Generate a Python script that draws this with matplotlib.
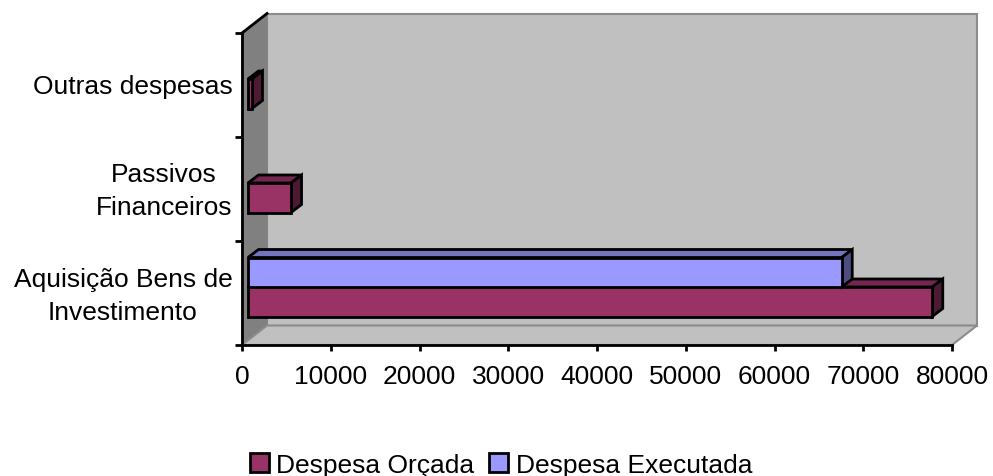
import matplotlib
matplotlib.use('Agg')
import matplotlib.pyplot as plt
from matplotlib.patches import Polygon, Patch

plt.rcParams['font.family'] = ['Liberation Sans', 'DejaVu Sans']

categories = ['Aquisição Bens de\nInvestimento', 'Passivos\nFinanceiros', 'Outras despesas']
orcada = [77100, 4850, 450]
executada = [66900, 0, 0]
x_ticks = [0, 10000, 20000, 30000, 40000, 50000, 60000, 70000, 80000]

W, H = 993, 477
# front plane of the chart box in pixels
left, right, bottom, top = 242, 952, 346, 34

# depth of the box and of the bars, in data units
sx = 80000 / (right - left)
sy = 3 / (bottom - top)
box_dx, box_dy = 25 * sx, 19.5 * sy
bar_dx, bar_dy = 10.5 * sx, 8 * sy
bar_x0 = 6 * sx
bar_y0 = 28.5 * sy
bar_h = 29.5 * sy
font_size = 19


def box3d(ax, start, y, value, h, front, top_col, side_col):
    ax.add_patch(Polygon([(start, y + h), (start + value, y + h), (start + value + bar_dx, y + h + bar_dy),
                          (start + bar_dx, y + h + bar_dy)], fc=top_col, ec='k', lw=2, zorder=3, clip_on=False))
    ax.add_patch(Polygon([(start + value, y), (start + value + bar_dx, y + bar_dy),
                          (start + value + bar_dx, y + h + bar_dy), (start + value, y + h)],
                         fc=side_col, ec='k', lw=2, zorder=3, clip_on=False))
    ax.add_patch(Polygon([(start, y), (start + value, y), (start + value, y + h), (start, y + h)],
                         fc=front, ec='k', lw=2, zorder=3, clip_on=False))


fig = plt.figure(figsize=(W / 100, H / 100), dpi=100)
ax = fig.add_axes([left / W, 1 - bottom / H, (right - left) / W, (bottom - top) / H])
ax.set_xlim(0, 80000)
ax.set_ylim(0, 3)
ax.patch.set_visible(False)

# back wall, side wall and floor
ax.add_patch(Polygon([(box_dx, box_dy), (80000 + box_dx, box_dy), (80000 + box_dx, 3 + box_dy), (box_dx, 3 + box_dy)],
                     fc='#c0c0c0', ec='#8c8c8c', lw=1.5, zorder=1, clip_on=False))
ax.add_patch(Polygon([(0, 0), (box_dx, box_dy), (box_dx, 3 + box_dy), (0, 3)],
                     fc='#808080', ec='#808080', lw=1, zorder=1, clip_on=False))
ax.add_patch(Polygon([(0, 0), (80000, 0), (80000 + box_dx, box_dy), (box_dx, box_dy)],
                     fc='#c0c0c0', ec='#8c8c8c', lw=1.5, zorder=1, clip_on=False))
ax.plot([0, box_dx], [3, 3 + box_dy], color='k', lw=2, zorder=2, clip_on=False)

for i in range(len(categories)):
    y = i + bar_y0
    if orcada[i] > 0:
        box3d(ax, bar_x0, y, orcada[i], bar_h, '#993366', '#732650', '#4d1a33')
    if executada[i] > 0:
        box3d(ax, bar_x0, y + bar_h, executada[i], bar_h, '#9999ff', '#7373bf', '#4d4d80')

for s in ['top', 'right']:
    ax.spines[s].set_visible(False)
for s in ['left', 'bottom']:
    ax.spines[s].set_linewidth(2)
    ax.spines[s].set_zorder(4)

ax.set_xticks(x_ticks)
ax.set_yticks(range(len(categories) + 1))
ax.set_yticklabels([])
ax.tick_params(axis='x', length=4.5, width=2, labelsize=font_size, pad=9.5)
ax.tick_params(axis='y', length=5, width=2)

# category labels sit roughly in the middle of each band
ax.set_yticks([0.54, 1.555, 2.51], labels=categories, minor=True)
ax.tick_params(axis='y', which='minor', length=0, labelsize=font_size, pad=7)
for t in ax.get_yticklabels(minor=True):
    t.set_multialignment('center')
    t.set_linespacing(1.46)

handles = [Patch(fc='#993366', ec='k', lw=2), Patch(fc='#9999ff', ec='k', lw=2)]
fig.legend(handles, ['Despesa Orçada', 'Despesa Executada'], ncol=2, frameon=False, fontsize=font_size,
           loc='center', bbox_to_anchor=(501 / W, 1 - 466 / H), handlelength=0.72, handleheight=0.72,
           handletextpad=0.3, columnspacing=0.55, borderpad=0, borderaxespad=0)

fig.savefig('out.png', dpi=100)
